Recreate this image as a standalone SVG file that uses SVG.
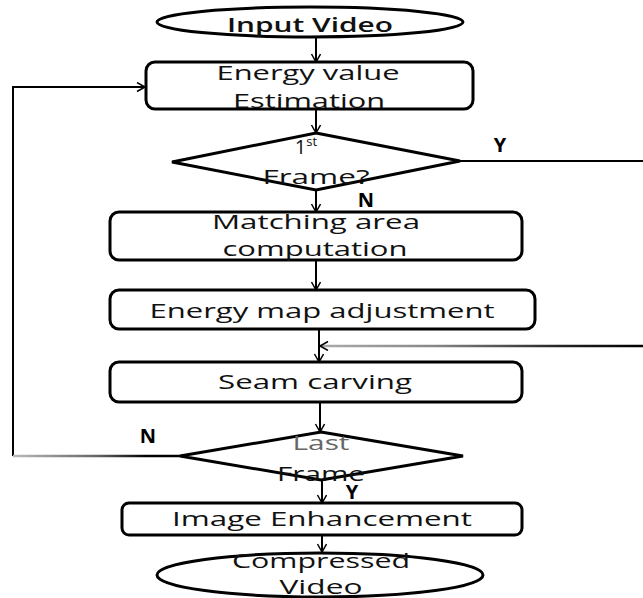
<svg xmlns="http://www.w3.org/2000/svg" width="643" height="598" viewBox="0 0 643 598">
<defs>
<style>
.shape{fill:#fff;stroke:#000;stroke-width:3}
.ln{fill:none;stroke:#000;stroke-width:2}
.t{font-family:"Open Sans","Noto Sans","Liberation Sans",sans-serif;font-size:20px;fill:#111;text-anchor:middle}
.lb{font-family:"Open Sans","Noto Sans","Liberation Sans",sans-serif;font-size:20px;font-weight:bold;fill:#000;text-anchor:middle}
</style>
<marker id="ah" markerUnits="userSpaceOnUse" markerWidth="12" markerHeight="12" refX="9" refY="5" orient="auto">
<path d="M1,0.5 L9,5 L1,9.5" fill="none" stroke="#000" stroke-width="1.5"/>
</marker>
<linearGradient id="gR" gradientUnits="userSpaceOnUse" x1="320" y1="0" x2="643" y2="0">
<stop offset="0" stop-color="#aaa"/>
<stop offset="0.35" stop-color="#888"/>
<stop offset="0.75" stop-color="#222"/>
<stop offset="1" stop-color="#000"/>
</linearGradient>
<linearGradient id="gL" gradientUnits="userSpaceOnUse" x1="13" y1="0" x2="180" y2="0">
<stop offset="0" stop-color="#bbb"/>
<stop offset="0.5" stop-color="#666"/>
<stop offset="0.8" stop-color="#000"/>
<stop offset="1" stop-color="#000"/>
</linearGradient>
</defs>

<g id="connectors">
<line class="ln" x1="316" y1="37" x2="316" y2="62" marker-end="url(#ah)"/>
<line class="ln" x1="316" y1="109" x2="316" y2="133" marker-end="url(#ah)"/>
<line class="ln" x1="316" y1="190" x2="316" y2="212" marker-end="url(#ah)"/>
<line class="ln" x1="316" y1="260" x2="316" y2="290" marker-end="url(#ah)"/>
<line class="ln" x1="319" y1="329" x2="319" y2="362" marker-end="url(#ah)"/>
<line class="ln" x1="320" y1="402" x2="320" y2="432" marker-end="url(#ah)"/>
<line class="ln" x1="322" y1="480" x2="322" y2="503" marker-end="url(#ah)"/>
<line class="ln" x1="322" y1="535" x2="322" y2="552" marker-end="url(#ah)"/>
<polyline class="ln" points="460,161 650,161"/>
<line x1="650" y1="346" x2="320" y2="346" stroke="url(#gR)" stroke-width="2.5" marker-end="url(#ah)"/>
<polyline class="ln" points="13,456 13,87 145,87" marker-end="url(#ah)"/>
<line x1="180" y1="456" x2="13" y2="456" stroke="url(#gL)" stroke-width="2.5"/>
<text class="lb" x="500" y="152">Y</text>
<text class="lb" x="366" y="207">N</text>
<text class="lb" x="148" y="443">N</text>
<text class="lb" x="352" y="499">Y</text>
</g>

<g id="input-video">
<ellipse class="shape" cx="310" cy="22" rx="153" ry="15"/>
<text class="t" x="310" y="32" font-weight="600" textLength="166" lengthAdjust="spacingAndGlyphs">Input Video</text>
</g>

<g id="energy-value-estimation">
<rect class="shape" x="146" y="62" width="327" height="47" rx="9"/>
<text class="t" x="308" y="80" textLength="183" lengthAdjust="spacingAndGlyphs">Energy value</text>
<text class="t" x="309" y="108" textLength="152" lengthAdjust="spacingAndGlyphs">Estimation</text>
</g>

<g id="first-frame">
<polygon class="shape" points="316,133 460,161 316,190 172,162"/>
<text class="t" x="306" y="154">1<tspan font-size="13" dy="-8">st</tspan></text>
<text class="t" x="316" y="184" textLength="107" lengthAdjust="spacingAndGlyphs">Frame?</text>
</g>

<g id="matching-area">
<rect class="shape" x="110" y="212" width="412" height="48" rx="9"/>
<text class="t" x="316" y="229" textLength="208" lengthAdjust="spacingAndGlyphs">Matching area</text>
<text class="t" x="315" y="256" textLength="185" lengthAdjust="spacingAndGlyphs">computation</text>
</g>

<g id="energy-map-adjustment">
<rect class="shape" x="110" y="290" width="425" height="39" rx="9"/>
<text class="t" x="322" y="318" textLength="345" lengthAdjust="spacingAndGlyphs">Energy map adjustment</text>
</g>

<g id="seam-carving">
<rect class="shape" x="110" y="362" width="412" height="40" rx="9"/>
<text class="t" x="315" y="389" textLength="194" lengthAdjust="spacingAndGlyphs">Seam carving</text>
</g>

<g id="last-frame">
<polygon class="shape" points="321,432 463,456 321,480 180,456"/>
<text class="t" x="321" y="450" style="fill:#666" textLength="57" lengthAdjust="spacingAndGlyphs">Last</text>
<text class="t" x="321" y="481" textLength="88" lengthAdjust="spacingAndGlyphs">Frame</text>
</g>

<g id="image-enhancement">
<rect class="shape" x="122" y="503" width="400" height="32" rx="7"/>
<text class="t" x="322" y="526" textLength="300" lengthAdjust="spacingAndGlyphs">Image Enhancement</text>
</g>

<g id="compressed-video">
<ellipse class="shape" cx="320" cy="575" rx="163" ry="22"/>
<text class="t" x="321" y="568" textLength="178" lengthAdjust="spacingAndGlyphs">Compressed</text>
<text class="t" x="321" y="594" textLength="83" lengthAdjust="spacingAndGlyphs">Video</text>
</g>
</svg>
